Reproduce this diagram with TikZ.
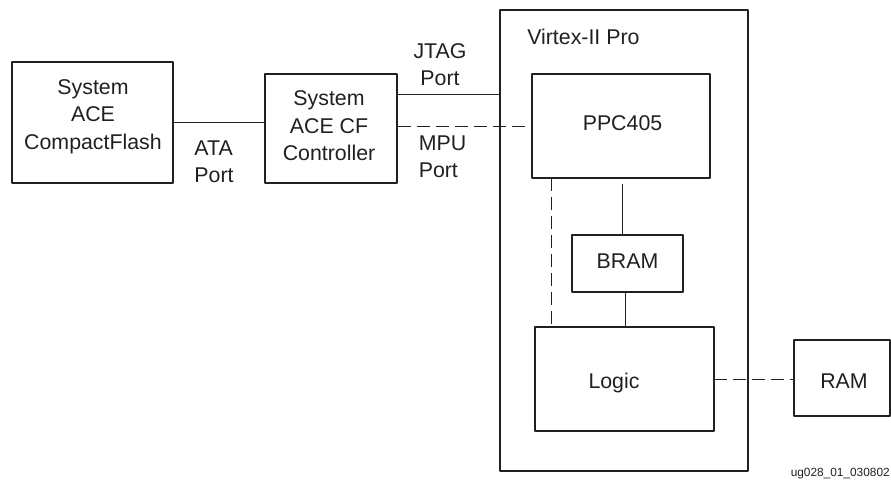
\documentclass[tikz,border=0pt]{standalone}
\usepackage{fontspec}
\setmainfont{Liberation Sans}
\definecolor{ink}{HTML}{231F20}
\tikzset{
 blk/.style={draw=ink,line width=1.5pt,line join=round,fill=white,inner sep=0pt},
 lbl/.style={align=center,text=ink,inner sep=0pt,font=\fontsize{16}{20.6}\selectfont},
 wire/.style={draw=ink,line width=0.75pt},
 dwire/.style={draw=ink,line width=0.75pt,dash pattern=on 10pt off 4.3pt}
}
\begin{document}
\begin{tikzpicture}[x=1pt,y=-1pt,scale=0.75]
\useasboundingbox (0,0) rectangle (891,480);
\def\bx#1#2#3#4#5{\node[blk,minimum width=#4*0.75pt-#2*0.75pt,minimum height=#5*0.75pt-#3*0.75pt] (#1) at ({(#2+#4)/2},{(#3+#5)/2}) {};}
\bx{cf}{12}{62}{173}{183}
\bx{ctl}{264.5}{74}{396.5}{183}
\bx{vp}{500}{9.5}{748}{470.5}
\bx{ppc}{531.5}{74}{710}{177.5}
\bx{bram}{572}{235}{683}{292}
\bx{logic}{535}{326.5}{713.5}{431}
\bx{ram}{794}{339.5}{889.5}{416}
\node[lbl] (cft) at (93,116.5) {System\\ACE\\CompactFlash};
\node[lbl] (ctlt) at (329,126) {System\\ACE CF\\Controller};
\node[lbl] (ppct) at (622.5,123.5) {PPC405};
\node[lbl] (bramt) at (627.5,261.5) {BRAM};
\node[lbl] (logict) at (614,383) {Logic};
\node[lbl] (ramt) at (844,381) {RAM};
\node[lbl,anchor=west] (vt) at (527,36.5) {Virtex-II Pro};
\node[lbl] (jt) at (440,64.5) {JTAG\\Port};
\node[lbl,align=left] (mp) at (442.5,156.5) {MPU\\Port};
\node[lbl,align=left] (at) at (214,161.5) {ATA\\Port};
\node[anchor=east,inner sep=0pt,text=ink,font=\fontsize{8.9}{10}\selectfont] (id) at (890,474) {ug028\_01\_030802};
\coordinate (a1) at (cf.east |- 0,122);
\coordinate (a2) at (ctl.west |- 0,122);
\coordinate (j1) at (ctl.east |- 0,94);
\coordinate (j2) at (vp.west |- 0,94);
\coordinate (m1) at (ctl.east |- 0,126);
\coordinate (m2) at (527,126);
\coordinate (d1) at (551,177.5);
\coordinate (d2) at (551,326.5);
\coordinate (b1) at (622,184);
\coordinate (b2) at (622,235);
\coordinate (b3) at (625.5,292);
\coordinate (b4) at (625.5,326.5);
\coordinate (r1) at (713.5,379);
\coordinate (r2) at (794,379);
\draw[wire] (a1) -- (a2);
\draw[wire] (j1) -- (j2);
\draw[dwire] (m1) -- (m2);
\draw[dwire] (d1) -- (d2);
\draw[wire] (b1) -- (b2);
\draw[wire] (b3) -- (b4);
\draw[dwire] (r1) -- (r2);
\end{tikzpicture}
\end{document}
